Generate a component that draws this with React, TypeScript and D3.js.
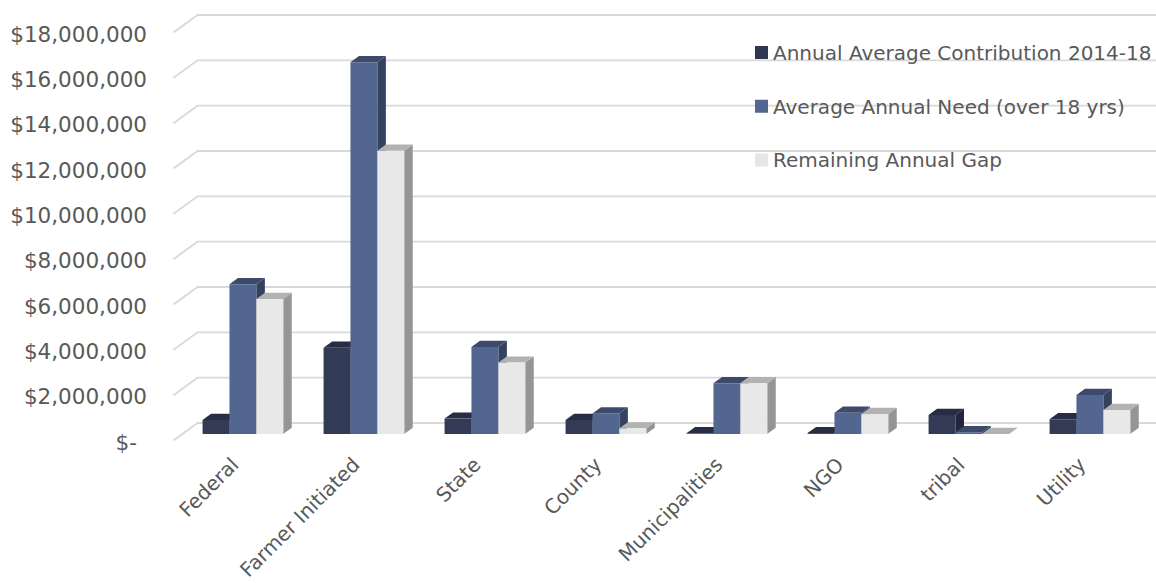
import React from "react";
import * as d3 from "d3";

// Funding sources along the category axis
const categories = [
  "Federal",
  "Farmer Initiated",
  "State",
  "County",
  "Municipalities",
  "NGO",
  "tribal",
  "Utility",
];

const seriesNames = [
  "Annual Average Contribution 2014-18",
  "Average Annual Need (over 18 yrs)",
  "Remaining Annual Gap",
];

// Dollar amounts per category
const contribution = [620000, 3810000, 680000, 620000, 30000, 40000, 840000, 650000];
const need = [6610000, 16400000, 3840000, 910000, 2240000, 940000, 80000, 1720000];
const remainingGap = [5960000, 12500000, 3150000, 250000, 2240000, 880000, 0, 1060000];

const yTicks = [0, 2000000, 4000000, 6000000, 8000000, 10000000, 12000000, 14000000, 16000000, 18000000];

const seriesValues = [contribution, need, remainingGap];

// Face colours per series: front, top, side
const palette = [
  { front: "#323a55", top: "#262d45", side: "#20263b", key: "#2f3650" },
  { front: "#52668f", top: "#3c4b6c", side: "#34415f", key: "#52668f" },
  { front: "#e8e8e8", top: "#b2b2b2", side: "#959595", key: "#e6e6e6" },
];

const W = 1156;
const H = 583;
const TEXT = "#595959";
const FONT = "'DejaVu Sans', sans-serif";

// Oblique 3-D projection: depth runs up and to the right
const DX = 24;
const DY = -17.5;
const Z0 = 0.371; // bar front plane
const Z1 = 0.726; // bar back plane

const x0 = d3.scaleBand<string>().domain(categories).range([173.5, 1141.5]).padding(0);
const step = x0.step();
const x1 = d3
  .scaleBand<number>()
  .domain([0, 1, 2])
  .range([(step * 0.75) / 4.5, (step * 3.75) / 4.5])
  .padding(0);
const y = d3.scaleLinear().domain([0, 18000000]).range([440.5, 32.5]);

const proj = (x: number, v: number, z: number): [number, number] => [x + z * DX, y(v) + z * DY];
const poly = (pts: [number, number][]) => pts.map((p) => p.join(",")).join(" ");

const fmt = d3.format("$,");
const tickLabel = (v: number) => (v === 0 ? "$-" : fmt(v));

export default function App() {
  const xEnd = x0.range()[1];

  const bars: JSX.Element[] = [];
  categories.forEach((cat, ci) => {
    seriesValues.forEach((vals, si) => {
      const v = vals[ci];
      const xl = (x0(cat) as number) + (x1(si) as number);
      const xr = xl + x1.bandwidth();
      const c = palette[si];
      bars.push(
        <g key={`${cat}-${si}`}>
          <polygon
            points={poly([proj(xr, 0, Z0), proj(xr, v, Z0), proj(xr, v, Z1), proj(xr, 0, Z1)])}
            fill={c.side}
          />
          <polygon
            points={poly([proj(xl, v, Z0), proj(xr, v, Z0), proj(xr, v, Z1), proj(xl, v, Z1)])}
            fill={c.top}
          />
          <polygon
            points={poly([proj(xl, 0, Z0), proj(xr, 0, Z0), proj(xr, v, Z0), proj(xl, v, Z0)])}
            fill={c.front}
          />
        </g>
      );
    });
  });

  const legendY = d3.scalePoint<number>().domain([0, 1, 2]).range([52.5, 160]);

  return (
    <svg
      width={W}
      height={H}
      viewBox={`0 0 ${W} ${H}`}
      style={{ position: "absolute", left: 0, top: 0, background: "#fff" }}
      fontFamily={FONT}
    >
      {/* wall gridlines */}
      <g fill="none" stroke="#d9d9d9" strokeWidth={1.8}>
        {yTicks.map((t) => {
          const a = proj(x0.range()[0], t, 0);
          const b = proj(x0.range()[0], t, 1);
          const c = proj(xEnd, t, 1);
          return <polyline key={t} points={poly([a, b, c])} />;
        })}
      </g>

      {/* value axis labels */}
      <g fill={TEXT} fontSize={21.5} textAnchor="end">
        {yTicks.map((t) => (
          <text key={t} x={t === 0 ? 137 : 147} y={y(t)} dy="0.43em">
            {tickLabel(t)}
          </text>
        ))}
      </g>

      {bars}

      {/* category labels */}
      <g fill={TEXT} fontSize={20} textAnchor="end">
        {categories.map((cat) => {
          const cx = (x0(cat) as number) + step / 2 + Z0 * DX - 3;
          const cy = 466;
          return (
            <text key={cat} transform={`translate(${cx},${cy}) rotate(-45)`}>
              {cat}
            </text>
          );
        })}
      </g>

      {/* legend */}
      <g fill={TEXT} fontSize={20}>
        {seriesNames.map((name, i) => {
          const ry = legendY(i) as number;
          return (
            <g key={name}>
              <rect x={755} y={ry - 6.5} width={13} height={13} fill={palette[i].key} />
              <text x={773} y={ry + 7.3}>
                {name}
              </text>
            </g>
          );
        })}
      </g>
    </svg>
  );
}
